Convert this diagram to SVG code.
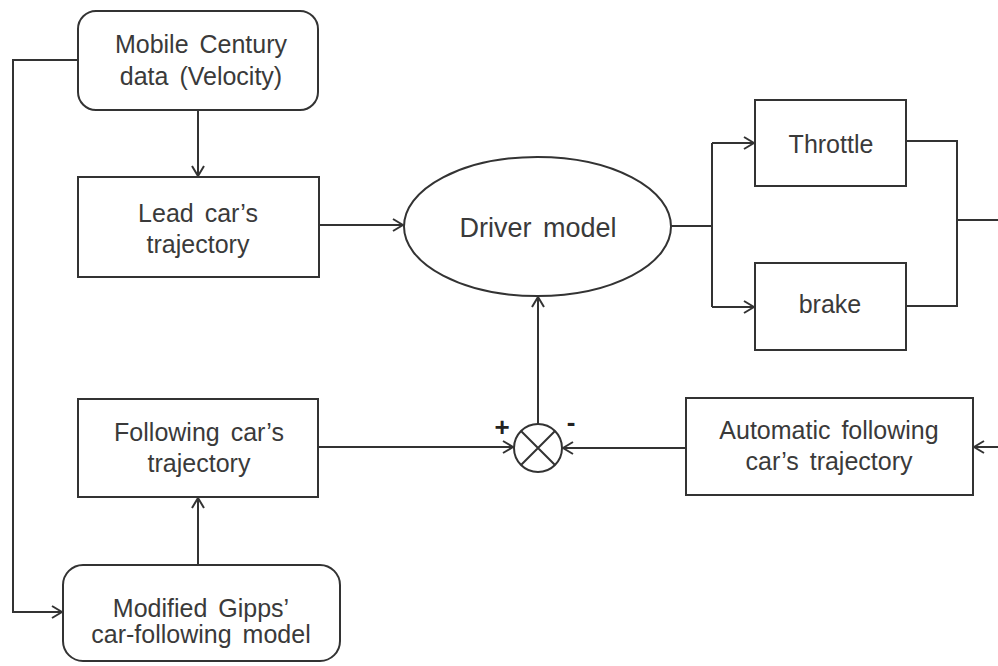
<svg xmlns="http://www.w3.org/2000/svg" width="998" height="666" viewBox="0 0 998 666">
  <style>
    .box { fill: #ffffff; stroke: #333333; stroke-width: 2; }
    .lbl { font-family: "Liberation Sans", Arial, sans-serif; font-size: 25px; word-spacing: 4px; fill: #3a3a3a; text-anchor: middle; }
    .wire { fill: none; stroke: #333333; stroke-width: 2; }
    .sign { font-family: "Liberation Sans", Arial, sans-serif; font-weight: bold; fill: #222222; text-anchor: middle; }
  </style>
  <defs>
    <marker id="arrow" viewBox="0 0 12 14" refX="11" refY="7" markerWidth="12" markerHeight="14" markerUnits="userSpaceOnUse" orient="auto">
      <path d="M1,1 L11,7 L1,13" fill="none" stroke="#333333" stroke-width="2"/>
    </marker>
  </defs>
  <rect width="998" height="666" fill="#ffffff"/>

  <g id="connectors">
    <!-- data source to lead car -->
    <path class="wire" d="M198,110 V176" marker-end="url(#arrow)"/>
    <!-- data source feeds the Gipps model -->
    <path class="wire" d="M78,60 H13 V612 H62" marker-end="url(#arrow)"/>
    <!-- lead car to driver model -->
    <path class="wire" d="M319,225 H403" marker-end="url(#arrow)"/>
    <!-- driver model splits to throttle / brake -->
    <path class="wire" d="M671,226 H712"/>
    <path class="wire" d="M712,143 V307"/>
    <path class="wire" d="M712,143 H754" marker-end="url(#arrow)"/>
    <path class="wire" d="M712,307 H754" marker-end="url(#arrow)"/>
    <!-- throttle / brake merge -->
    <path class="wire" d="M906,141 H957 V306 H906"/>
    <path class="wire" d="M957,220 H998"/>
    <!-- vehicle output into automatic following car -->
    <path class="wire" d="M998,447 H974" marker-end="url(#arrow)"/>
    <!-- automatic following car into the comparator -->
    <path class="wire" d="M686,448 H563" marker-end="url(#arrow)"/>
    <!-- following car into the comparator -->
    <path class="wire" d="M318,447 H513" marker-end="url(#arrow)"/>
    <!-- comparator error to driver model -->
    <path class="wire" d="M538,424 V297" marker-end="url(#arrow)"/>
    <!-- Gipps model to following car -->
    <path class="wire" d="M198,565 V498" marker-end="url(#arrow)"/>
  </g>

  <g id="mobile-century">
    <rect class="box" x="78" y="11" width="240" height="99" rx="18" ry="18"/>
    <text class="lbl" x="201" y="53">Mobile Century</text>
    <text class="lbl" x="201" y="85">data (Velocity)</text>
  </g>

  <g id="lead-car">
    <rect class="box" x="78" y="177" width="241" height="100"/>
    <text class="lbl" x="198" y="222">Lead car’s</text>
    <text class="lbl" x="198" y="253">trajectory</text>
  </g>

  <g id="driver-model">
    <ellipse class="box" cx="537.5" cy="226.5" rx="133.5" ry="69.5"/>
    <text class="lbl" x="538" y="237" style="font-size:27px">Driver model</text>
  </g>

  <g id="throttle">
    <rect class="box" x="755" y="100" width="151" height="86"/>
    <text class="lbl" x="831" y="153">Throttle</text>
  </g>

  <g id="brake">
    <rect class="box" x="755" y="263" width="151" height="87"/>
    <text class="lbl" x="830" y="313">brake</text>
  </g>

  <g id="comparator">
    <circle cx="538" cy="448" r="24" fill="#ffffff" stroke="#333333" stroke-width="2"/>
    <path class="wire" d="M521,431 L555,465 M555,431 L521,465"/>
    <text class="sign" x="502" y="436" style="font-size:26px">+</text>
    <text class="sign" x="571" y="431" style="font-size:26px">-</text>
  </g>

  <g id="automatic-following-car">
    <rect class="box" x="686" y="398" width="287" height="97"/>
    <text class="lbl" x="829" y="439">Automatic following</text>
    <text class="lbl" x="829" y="470">car’s trajectory</text>
  </g>

  <g id="following-car">
    <rect class="box" x="78" y="399" width="240" height="98"/>
    <text class="lbl" x="199" y="441">Following car’s</text>
    <text class="lbl" x="199" y="472">trajectory</text>
  </g>

  <g id="gipps-model">
    <rect class="box" x="63" y="565" width="277" height="96" rx="20" ry="20"/>
    <text class="lbl" x="201" y="617">Modified Gipps’</text>
    <text class="lbl" x="201" y="643">car-following model</text>
  </g>
</svg>
